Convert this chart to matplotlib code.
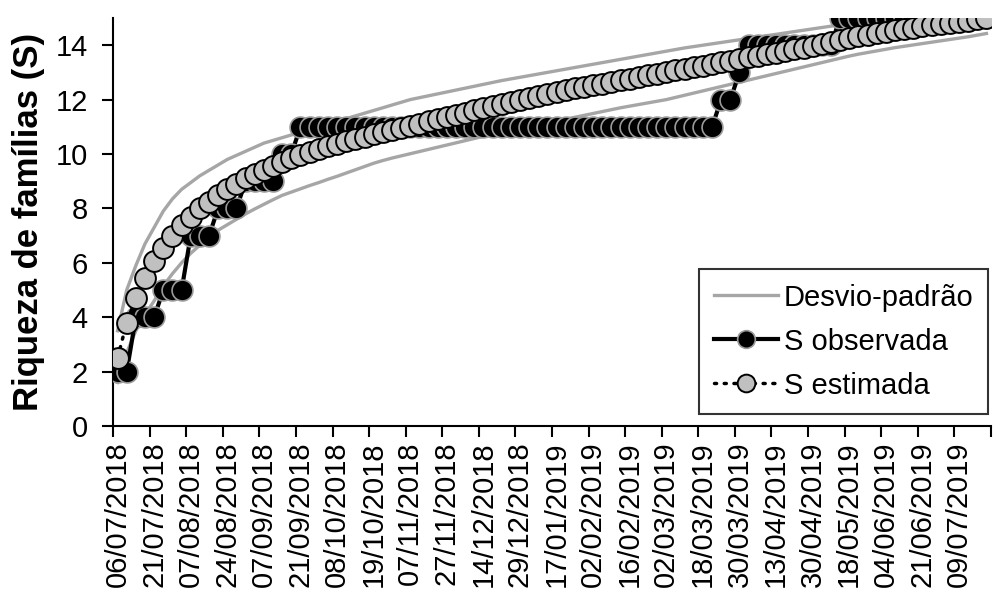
import numpy as np
import matplotlib
matplotlib.use("Agg")
import matplotlib.pyplot as plt

plt.rcParams['font.family'] = ['Liberation Sans', 'DejaVu Sans']

# tick labels (one every 4 sampling dates)
date_labels = ["06/07/2018", "21/07/2018", "07/08/2018", "24/08/2018", "07/09/2018",
               "21/09/2018", "08/10/2018", "19/10/2018", "07/11/2018", "27/11/2018",
               "14/12/2018", "29/12/2018", "17/01/2019", "02/02/2019", "16/02/2019",
               "02/03/2019", "18/03/2019", "30/03/2019", "13/04/2019", "30/04/2019",
               "18/05/2019", "04/06/2019", "21/06/2019", "09/07/2019"]

# observed richness, one value per sampling date
s_obs = [2, 2, 4, 4, 4, 5, 5, 5, 7, 7, 7, 8, 8, 8, 9, 9, 9, 9, 10, 10,
         11, 11, 11, 11, 11, 11, 11, 11, 11, 11, 11, 11, 11, 11, 11, 11,
         11, 11, 11, 11, 11, 11, 11, 11, 11, 11, 11, 11, 11, 11, 11, 11,
         11, 11, 11, 11, 11, 11, 11, 11, 11, 11, 11, 11, 11, 11,
         12, 12, 13, 14, 14, 14, 14, 14, 14, 14, 14, 14, 14,
         15, 15, 15, 15, 15, 15, 15, 15, 15, 15, 15, 15, 15, 15, 15, 15, 15]

# estimated richness
s_est = [2.50, 3.80, 4.70, 5.45, 6.05, 6.55, 7.00, 7.40, 7.70, 8.00,
         8.25, 8.50, 8.70, 8.90, 9.10, 9.25, 9.40, 9.55, 9.70, 9.85,
         9.97, 10.08, 10.18, 10.28, 10.38, 10.47, 10.56, 10.64, 10.72, 10.80,
         10.88, 10.96, 11.04, 11.12, 11.20, 11.28, 11.36, 11.44, 11.52, 11.60,
         11.68, 11.76, 11.84, 11.92, 11.99, 12.06, 12.13, 12.20, 12.27, 12.34,
         12.41, 12.47, 12.53, 12.59, 12.65, 12.71, 12.77, 12.83, 12.89, 12.95,
         13.01, 13.07, 13.13, 13.19, 13.25, 13.31, 13.37, 13.43, 13.49, 13.55,
         13.61, 13.67, 13.73, 13.79, 13.85, 13.91, 13.97, 14.05, 14.12, 14.19,
         14.26, 14.32, 14.38, 14.44, 14.50, 14.55, 14.60, 14.65, 14.70, 14.74,
         14.78, 14.82, 14.86, 14.90, 14.95, 14.99]

# estimate +/- standard deviation
sd_upper = [3.50, 5.00, 5.90, 6.70, 7.30, 7.90, 8.35, 8.70, 8.95, 9.20,
            9.40, 9.60, 9.80, 9.95, 10.10, 10.25, 10.40, 10.50, 10.60, 10.70,
            10.80, 10.90, 11.00, 11.10, 11.20, 11.30, 11.40, 11.50, 11.60, 11.70,
            11.80, 11.90, 12.00, 12.07, 12.14, 12.21, 12.28, 12.35, 12.42, 12.49,
            12.56, 12.63, 12.70, 12.76, 12.82, 12.88, 12.94, 13.00, 13.06, 13.12,
            13.18, 13.24, 13.30, 13.36, 13.42, 13.48, 13.54, 13.60, 13.66, 13.72,
            13.78, 13.84, 13.90, 13.95, 14.00, 14.05, 14.10, 14.15, 14.20, 14.25,
            14.30, 14.35, 14.40, 14.45, 14.50, 14.55, 14.60, 14.65, 14.70, 14.75,
            14.80, 14.85, 14.90, 14.95, 15.00, 15.05, 15.10, 15.15, 15.20, 15.25,
            15.30, 15.35, 15.40, 15.45, 15.50, 15.55]
sd_lower = [1.60, 2.70, 3.50, 4.10, 4.60, 5.15, 5.60, 6.00, 6.35, 6.65,
            6.95, 7.20, 7.40, 7.60, 7.80, 7.98, 8.15, 8.32, 8.48, 8.60,
            8.72, 8.84, 8.95, 9.07, 9.18, 9.30, 9.42, 9.54, 9.66, 9.76,
            9.85, 9.93, 10.01, 10.09, 10.17, 10.25, 10.33, 10.41, 10.49, 10.57,
            10.65, 10.72, 10.79, 10.86, 10.93, 11.00, 11.07, 11.14, 11.21, 11.28,
            11.35, 11.42, 11.49, 11.56, 11.63, 11.70, 11.76, 11.82, 11.88, 11.94,
            12.00, 12.08, 12.16, 12.24, 12.32, 12.40, 12.48, 12.56, 12.64, 12.72,
            12.80, 12.88, 12.96, 13.04, 13.12, 13.20, 13.28, 13.36, 13.44, 13.52,
            13.60, 13.67, 13.73, 13.79, 13.85, 13.91, 13.96, 14.01, 14.06, 14.11,
            14.16, 14.21, 14.26, 14.31, 14.37, 14.43]

n = len(s_obs)
x = np.arange(n) + 0.5  # categories sit between tick marks

fig = plt.figure(figsize=(9.94, 5.96), dpi=100)
ax = fig.add_axes([113 / 994, 1 - 426 / 596, (991 - 113) / 994, (426 - 18) / 596])

sd_col = '#a6a6a6'
ax.plot(x, sd_upper, color=sd_col, lw=2.4, zorder=2, label='Desvio-padrão')
ax.plot(x, sd_lower, color=sd_col, lw=2.4, zorder=2)
ax.plot(x, s_obs, color='black', lw=3, marker='o', ms=15, mfc='black',
        mec='#9a9a9a', mew=1.2, zorder=3, label='S observada')
ax.plot(x, s_est, color='black', lw=2.5, ls=(0, (0.6, 2.2)), dash_capstyle='round',
        marker='o', ms=15, mfc='#c0c0c0', mec='black', mew=1.4, zorder=4,
        label='S estimada')

ax.set_xlim(0, n)
ax.set_ylim(0, 15)
ax.set_yticks(np.arange(0, 15, 2))
ax.set_xticks(np.arange(0, n + 1, 4))
ax.set_xticklabels([])
ax.set_xticks(np.arange(len(date_labels)) * 4 + 0.5, minor=True)
ax.set_xticklabels(date_labels, minor=True, rotation=90, fontsize=21)
ax.tick_params(axis='x', which='minor', length=0, pad=11)
ax.tick_params(axis='x', which='major', length=8, width=1.5, direction='out')
ax.tick_params(axis='y', length=8, width=1.5, direction='out', labelsize=21, pad=10)

for side in ['top', 'right']:
    ax.spines[side].set_visible(False)
for side in ['left', 'bottom']:
    ax.spines[side].set_linewidth(1.5)

ax.set_ylabel('Riqueza de famílias (S)', fontsize=25, fontweight='bold', labelpad=8)

leg = ax.legend(loc='lower right', bbox_to_anchor=(0.9966, 0.029), borderaxespad=0,
                fontsize=21, frameon=True, fancybox=False, edgecolor='black',
                markerscale=0.85, handlelength=2.2, handletextpad=0.2,
                borderpad=0.5, labelspacing=0.55)
leg.get_frame().set_linewidth(1.5)

fig.savefig('out.png', dpi=100)
